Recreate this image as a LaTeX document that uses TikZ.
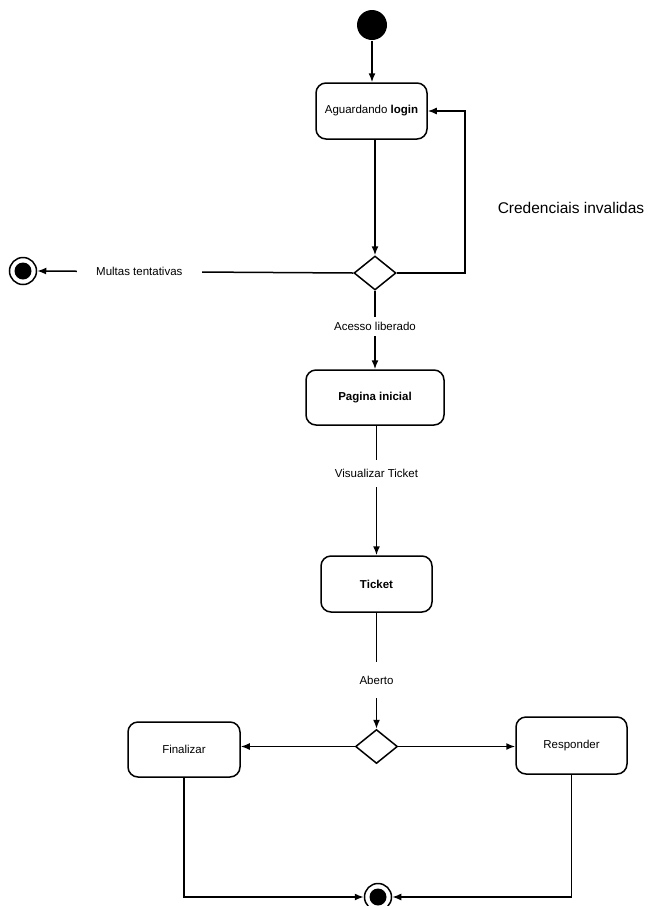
\documentclass[tikz,border=0pt]{standalone}
\usepackage{fontspec}
\setmainfont{Liberation Sans}
\usetikzlibrary{shapes.geometric,arrows.meta}
\newlength{\du}
\setlength{\du}{15\unitlength}
\tikzset{
  state/.style={draw, fill=white, rounded corners=0.666667\du, line width=0.1\du, inner sep=0pt, font=\fontsize{11.5}{13}\selectfont},
  choice/.style={draw, fill=white, diamond, minimum width=2.8\du, minimum height=2.266667\du, inner sep=0pt, line width=0.1\du},
  guard/.style={fill=white, inner xsep=0.2\du, inner ysep=0.35\du, font=\fontsize{11.5}{13}\selectfont},
  flow/.style={-{Latex[length=9pt,width=7pt]}, line width=0.1\du},
  initial/.style={circle, fill=black, minimum size=2.0\du, inner sep=0pt},
  finalout/.style={circle, draw, fill=white, line width=0.1\du, minimum size=1.8\du, inner sep=0pt},
  finalin/.style={circle, fill=black, minimum size=1.133333\du, inner sep=0pt}
}
\begin{document}
\begin{tikzpicture}
\pgftransformxscale{1.000000}
\pgftransformyscale{-1.000000}
\definecolor{dialinecolor}{rgb}{0.000000, 0.000000, 0.000000}
\pgfsetstrokecolor{dialinecolor}
\pgfsetlinewidth{0.100000\du}
\pgfsetdash{}{0pt}
\pgfsetbuttcap
\pgfsetmiterjoin
\useasboundingbox (0\du,0\du) rectangle (43.600000\du,60.400000\du);
% states
\node[initial] (start) at (24.800000\du,1.666667\du){};
\node[state, minimum width=7.400000\du, minimum height=3.733333\du] (login) at (24.766667\du,7.400000\du){Aguardando \textbf{login}};
\node[choice] (dec1) at (25.000000\du,18.200000\du){};
\node[finalout] (end1) at (1.533333\du,18.066667\du){};
\node[finalin] (end1in) at (end1){};
\node[state, minimum width=9.200000\du, minimum height=3.666667\du] (pagina) at (25.000000\du,26.500000\du){\textbf{Pagina inicial}};
\node[state, minimum width=7.400000\du, minimum height=3.733333\du] (ticket) at (25.100000\du,38.933333\du){\textbf{Ticket}};
\node[choice] (dec2) at (25.100000\du,49.766667\du){};
\node[state, minimum width=7.400000\du, minimum height=3.800000\du] (resp) at (38.100000\du,49.700000\du){Responder};
\node[state, minimum width=7.466667\du, minimum height=3.666667\du] (fin) at (12.266667\du,49.966667\du){Finalizar};
\node[finalout] (end2) at (25.200000\du,59.800000\du){};
\node[finalin] (end2in) at (end2){};
% setfont left to latex
\node[font=\fontsize{15.5}{18}\selectfont] (cred) at (38.066667\du,13.866667\du){Credenciais invalidas};
\coordinate (loop) at (31.000000\du,7.400000\du);
% transitions
\draw[flow] (start) -- (start |- login.north);
\draw[flow] (login.south -| dec1.north) -- (dec1.north);
\draw[flow] (dec1.east) -| (loop) -- (login.east);
\draw[flow] (dec1.west) -- node[guard, pos=0.677, inner xsep=1.27\du] (multas) {Multas tentativas} (end1.east);
\draw[flow] (dec1.south) -- node[guard, pos=0.45] (acesso) {Acesso liberado} (pagina.north);
\draw[flow] (pagina.south -| ticket.north) -- node[guard, pos=0.37, inner ysep=0.6\du] (visual) {Visualizar Ticket} (ticket.north);
\draw[flow] (ticket.south) -- node[guard, pos=0.58, inner ysep=0.9\du] (aberto) {Aberto} (dec2.north);
\draw[flow] (dec2.east) -- (dec2.east -| resp.west);
\draw[flow] (dec2.west) -- (dec2.west -| fin.east);
\draw[flow] (fin.south) |- (end2.west);
\draw[flow] (resp.south) |- (end2.east);
\end{tikzpicture}
\end{document}
